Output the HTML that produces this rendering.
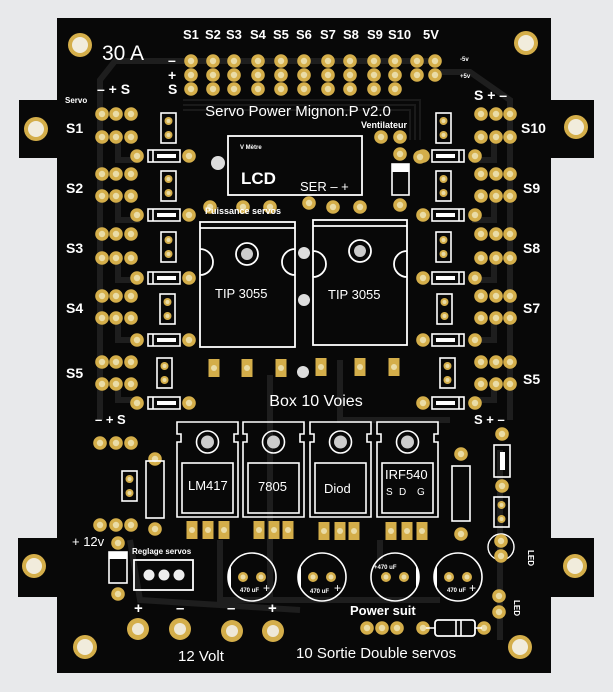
<!DOCTYPE html>
<html><head><meta charset="utf-8"><style>
html,body{margin:0;padding:0;background:#e8e9eb;}
svg{display:block;}
text{font-family:"Liberation Sans",sans-serif;fill:#fff;}
</style></head><body>
<svg width="613" height="692" viewBox="0 0 613 692" xmlns="http://www.w3.org/2000/svg">
<defs>
<g id="p"><circle r="6.8" fill="#d4ae4a"/><circle r="3.2" fill="#eadca6"/></g>
<g id="h"><circle r="12" fill="#d4ae4a"/><circle r="8" fill="#f1ecdc"/></g>
<g id="hb"><circle r="11" fill="#d4ae4a"/><circle r="6" fill="#eee8d6"/></g>
<g id="res"><rect x="0" y="-6" width="32" height="12" fill="none" stroke="#fff" stroke-width="1.6"/><line x1="5" y1="-6" x2="5" y2="6" stroke="#fff" stroke-width="1.6"/><rect x="9" y="-2" width="19" height="4" fill="#fff"/></g>
<g id="jp"><rect x="0" y="0" width="15" height="30" fill="none" stroke="#fff" stroke-width="1.6"/><circle cx="7.5" cy="8" r="4" fill="#d4ae4a"/><circle cx="7.5" cy="8" r="2" fill="#eadca6"/><circle cx="7.5" cy="22" r="4" fill="#d4ae4a"/><circle cx="7.5" cy="22" r="2" fill="#eadca6"/></g>
<g id="to"><path d="M0 0H61V12H57V20H61V95H0V20H4V12H0Z" fill="none" stroke="#fff" stroke-width="1.6"/><circle cx="30.5" cy="20" r="11" fill="none" stroke="#fff" stroke-width="1.6"/><circle cx="30.5" cy="20" r="6.5" fill="#ccc"/><rect x="5" y="41" width="51" height="50" fill="none" stroke="#fff" stroke-width="1.6"/></g>
<g id="rp"><rect x="-5.5" y="-9" width="11" height="18" fill="#d4ae4a"/><circle r="3" fill="#eadca6"/></g>
<g id="cap"><circle r="24" fill="none" stroke="#fff" stroke-width="1.6"/><circle cx="-9" cy="0" r="5" fill="#d4ae4a"/><circle cx="-9" r="2.5" fill="#eadca6"/><circle cx="9" cy="0" r="5" fill="#d4ae4a"/><circle cx="9" r="2.5" fill="#eadca6"/></g>
</defs>
<rect x="57" y="18" width="494" height="655" fill="#080808"/>
<rect x="19" y="100" width="40" height="58" fill="#080808"/>
<rect x="549" y="100" width="45" height="58" fill="#080808"/>
<rect x="18" y="538" width="41" height="59" fill="#080808"/>
<rect x="549" y="538" width="45" height="59" fill="#080808"/>
<g stroke="#1e1e1e" stroke-width="6" fill="none">
<path d="M100 420V80L115 61H440"/>
<path d="M510 420V100L470 72H440"/>
<path d="M118 140V160H140M118 200V220H140M118 260V280H140M118 320V340H140M118 380V400H140"/>
<path d="M494 140V160H472M494 200V220H472M494 260V280H472M494 320V340H472M494 380V400H472"/>
<path d="M270 375V600M340 360V420H450M220 540V600H440M500 450V640"/>
<path d="M130 540L140 600L300 610M380 540V560"/>
</g>
<g stroke="#1a1a1a" stroke-width="2" fill="none">
<path d="M183 100H420V140M183 105H415V140M183 110H410V140"/>
</g>
<use href="#h" x="80" y="45"/><use href="#h" x="526" y="43"/>
<use href="#h" x="36" y="129"/><use href="#h" x="576" y="127"/>
<use href="#h" x="34" y="566"/><use href="#h" x="575" y="566"/>
<use href="#h" x="85" y="647"/><use href="#h" x="520" y="647"/>
<text x="102" y="60" font-size="21">30 A</text>
<g font-size="13" font-weight="bold">
<text x="183" y="39">S1</text><text x="205" y="39">S2</text><text x="226" y="39">S3</text><text x="250" y="39">S4</text><text x="273" y="39">S5</text><text x="296" y="39">S6</text><text x="320" y="39">S7</text><text x="343" y="39">S8</text><text x="367" y="39">S9</text><text x="388" y="39">S10</text><text x="423" y="39">5V</text>
</g>
<g font-size="14" font-weight="bold"><text x="168" y="65">–</text><text x="168" y="80">+</text><text x="168" y="94">S</text></g>
<text x="460" y="61" font-size="6" font-weight="bold">-5v</text><text x="460" y="78" font-size="6" font-weight="bold">+5v</text>
<g>
<use href="#p" x="191" y="61"/><use href="#p" x="213" y="61"/><use href="#p" x="234" y="61"/><use href="#p" x="258" y="61"/><use href="#p" x="281" y="61"/><use href="#p" x="304" y="61"/><use href="#p" x="328" y="61"/><use href="#p" x="350" y="61"/><use href="#p" x="374" y="61"/><use href="#p" x="395" y="61"/><use href="#p" x="417" y="61"/><use href="#p" x="435" y="61"/>
<use href="#p" x="191" y="75"/><use href="#p" x="213" y="75"/><use href="#p" x="234" y="75"/><use href="#p" x="258" y="75"/><use href="#p" x="281" y="75"/><use href="#p" x="304" y="75"/><use href="#p" x="328" y="75"/><use href="#p" x="350" y="75"/><use href="#p" x="374" y="75"/><use href="#p" x="395" y="75"/><use href="#p" x="417" y="75"/><use href="#p" x="435" y="75"/>
<use href="#p" x="191" y="89"/><use href="#p" x="213" y="89"/><use href="#p" x="234" y="89"/><use href="#p" x="258" y="89"/><use href="#p" x="281" y="89"/><use href="#p" x="304" y="89"/><use href="#p" x="328" y="89"/><use href="#p" x="350" y="89"/><use href="#p" x="374" y="89"/><use href="#p" x="395" y="89"/>
</g>
<text x="298" y="116" font-size="15" text-anchor="middle">Servo Power Mignon.P v2.0</text>
<text x="97" y="94" font-size="14" font-weight="bold">– + S</text>
<text x="65" y="103" font-size="8" font-weight="bold">Servo</text>
<g font-size="14" font-weight="bold">
<text x="66" y="133">S1</text><text x="66" y="193">S2</text><text x="66" y="253">S3</text><text x="66" y="313">S4</text><text x="66" y="378">S5</text>
<text x="521" y="133">S10</text><text x="523" y="193">S9</text><text x="523" y="253">S8</text><text x="523" y="313">S7</text><text x="523" y="384">S5</text>
</g>
<g id="L">
<use href="#p" x="102" y="114"/><use href="#p" x="116" y="114"/><use href="#p" x="131" y="114"/><use href="#p" x="102" y="137"/><use href="#p" x="116" y="137"/><use href="#p" x="131" y="137"/>
<use href="#p" x="102" y="174"/><use href="#p" x="116" y="174"/><use href="#p" x="131" y="174"/><use href="#p" x="102" y="196"/><use href="#p" x="116" y="196"/><use href="#p" x="131" y="196"/>
<use href="#p" x="102" y="234"/><use href="#p" x="116" y="234"/><use href="#p" x="131" y="234"/><use href="#p" x="102" y="258"/><use href="#p" x="116" y="258"/><use href="#p" x="131" y="258"/>
<use href="#p" x="102" y="296"/><use href="#p" x="116" y="296"/><use href="#p" x="131" y="296"/><use href="#p" x="102" y="318"/><use href="#p" x="116" y="318"/><use href="#p" x="131" y="318"/>
<use href="#p" x="102" y="362"/><use href="#p" x="116" y="362"/><use href="#p" x="131" y="362"/><use href="#p" x="102" y="384"/><use href="#p" x="116" y="384"/><use href="#p" x="131" y="384"/>
<use href="#p" x="137" y="156"/><use href="#p" x="189" y="156"/><use href="#res" x="148" y="156"/>
<use href="#p" x="137" y="215"/><use href="#p" x="189" y="215"/><use href="#res" x="148" y="215"/>
<use href="#p" x="137" y="278"/><use href="#p" x="189" y="278"/><use href="#res" x="148" y="278"/>
<use href="#p" x="137" y="340"/><use href="#p" x="189" y="340"/><use href="#res" x="148" y="340"/>
<use href="#p" x="137" y="403"/><use href="#p" x="189" y="403"/><use href="#res" x="148" y="403"/>
<use href="#jp" x="161" y="113"/><use href="#jp" x="161" y="171"/><use href="#jp" x="161" y="232"/><use href="#jp" x="160" y="294"/><use href="#jp" x="157" y="358"/>
</g>
<use href="#L" transform="translate(612,0) scale(-1,1)"/>
<text x="474" y="100" font-size="14" font-weight="bold">S + –</text>
<rect x="228" y="136" width="134" height="59" fill="none" stroke="#fff" stroke-width="1.8"/>
<text x="240" y="149" font-size="6" font-weight="bold">V Mètre</text>
<text x="241" y="184" font-size="17" font-weight="bold">LCD</text>
<text x="300" y="191" font-size="13">SER – +</text>
<circle cx="218" cy="163" r="7" fill="#ddd"/>
<text x="361" y="128" font-size="9" font-weight="bold">Ventilateur</text>
<use href="#p" x="381" y="137"/><use href="#p" x="400" y="137"/><use href="#p" x="400" y="154"/><use href="#p" x="420" y="157"/>
<rect x="392" y="164" width="17" height="31" fill="none" stroke="#fff" stroke-width="1.6"/><rect x="392" y="164" width="17" height="8" fill="#fff"/>
<use href="#p" x="400" y="205"/><use href="#p" x="210" y="207"/><use href="#p" x="243" y="207"/><use href="#p" x="270" y="207"/><use href="#p" x="309" y="203"/><use href="#p" x="333" y="207"/><use href="#p" x="360" y="207"/>
<text x="205" y="214" font-size="9" font-weight="bold">Puissance servos</text>
<g fill="none" stroke="#fff" stroke-width="1.8">
<rect x="200" y="222" width="95" height="125"/><line x1="200" y1="228" x2="295" y2="228"/>
<rect x="313" y="220" width="94" height="125"/><line x1="313" y1="226" x2="407" y2="226"/>
<circle cx="247" cy="254" r="11"/><circle cx="360" cy="251" r="11"/>
<path d="M200 249A13 13 0 0 1 200 275"/><path d="M295 249A13 13 0 0 0 295 275"/>
<path d="M313 251A13 13 0 0 1 313 277"/><path d="M407 251A13 13 0 0 0 407 277"/>
</g>
<circle cx="247" cy="254" r="6" fill="#ccc"/><circle cx="360" cy="251" r="6" fill="#ccc"/>
<circle cx="304" cy="253" r="6" fill="#ddd"/><circle cx="304" cy="300" r="6" fill="#ddd"/><circle cx="303" cy="372" r="6" fill="#ddd"/>
<text x="215" y="298" font-size="13">TIP 3055</text><text x="328" y="299" font-size="13">TIP 3055</text>
<use href="#rp" x="214" y="368"/><use href="#rp" x="247" y="368"/><use href="#rp" x="281" y="368"/><use href="#rp" x="321" y="367"/><use href="#rp" x="360" y="367"/><use href="#rp" x="394" y="367"/>
<text x="316" y="406" font-size="16" text-anchor="middle">Box 10 Voies</text>
<text x="95" y="424" font-size="13" font-weight="bold">– + S</text>
<text x="474" y="424" font-size="13" font-weight="bold">S + –</text>
<use href="#p" x="100" y="443"/><use href="#p" x="116" y="443"/><use href="#p" x="131" y="443"/>
<use href="#p" x="100" y="525"/><use href="#p" x="116" y="525"/><use href="#p" x="131" y="525"/>
<use href="#p" x="155" y="459"/><use href="#p" x="155" y="529"/>
<rect x="146" y="461" width="18" height="57" fill="none" stroke="#fff" stroke-width="1.6"/>
<use href="#jp" x="122" y="471"/>
<text x="72" y="546" font-size="13">+ 12v</text>
<use href="#p" x="118" y="543"/><use href="#p" x="118" y="594"/>
<rect x="109" y="552" width="18" height="31" fill="none" stroke="#fff" stroke-width="1.6"/><rect x="109" y="552" width="18" height="7" fill="#fff"/>
<text x="132" y="554" font-size="8" font-weight="bold">Reglage servos</text>
<rect x="134" y="560" width="59" height="30" fill="none" stroke="#fff" stroke-width="1.8"/>
<circle cx="149" cy="575" r="5.5" fill="#eee"/><circle cx="164" cy="575" r="5.5" fill="#eee"/><circle cx="179" cy="575" r="5.5" fill="#eee"/>
<use href="#to" x="177" y="422"/><use href="#to" x="243" y="422"/><use href="#to" x="310" y="422"/><use href="#to" x="377" y="422"/>
<text x="188" y="490" font-size="13">LM417</text><text x="258" y="491" font-size="13">7805</text><text x="324" y="493" font-size="13">Diod</text><text x="385" y="479" font-size="13">IRF540</text>
<text x="386" y="495" font-size="10">S</text><text x="399" y="495" font-size="10">D</text><text x="417" y="495" font-size="10">G</text>
<use href="#rp" x="192" y="530"/><use href="#rp" x="208" y="530"/><use href="#rp" x="224" y="530"/>
<use href="#rp" x="259" y="530"/><use href="#rp" x="274" y="530"/><use href="#rp" x="288" y="530"/>
<use href="#rp" x="324" y="531"/><use href="#rp" x="340" y="531"/><use href="#rp" x="354" y="531"/>
<use href="#rp" x="391" y="531"/><use href="#rp" x="407" y="531"/><use href="#rp" x="422" y="531"/>
<use href="#p" x="461" y="454"/><use href="#p" x="461" y="534"/>
<rect x="452" y="466" width="18" height="55" fill="none" stroke="#fff" stroke-width="1.6"/>
<use href="#p" x="502" y="434"/><use href="#p" x="502" y="486"/>
<rect x="494" y="445" width="16" height="32" fill="none" stroke="#fff" stroke-width="1.6"/><rect x="500" y="452" width="5" height="18" fill="#fff"/>
<use href="#jp" x="494" y="497"/>
<circle cx="501" cy="547" r="13" fill="none" stroke="#fff" stroke-width="1.4"/><use href="#p" x="501" y="541"/><use href="#p" x="501" y="556"/>
<text x="528" y="550" font-size="8" font-weight="bold" transform="rotate(90 528 550)">LED</text>
<use href="#p" x="499" y="596"/><use href="#p" x="499" y="612"/>
<text x="514" y="600" font-size="8" font-weight="bold" transform="rotate(90 514 600)">LED</text>
<g><use href="#cap" x="252" y="577"/><path d="M231 565A24 24 0 0 0 231 589Z" fill="#fff"/><text x="240" y="592" font-size="6" font-weight="bold">470 uF</text><text x="263" y="592" font-size="12">+</text></g>
<g><use href="#cap" x="322" y="577"/><path d="M301 565A24 24 0 0 0 301 589Z" fill="#fff"/><text x="310" y="593" font-size="6" font-weight="bold">470 uF</text><text x="334" y="592" font-size="12">+</text></g>
<g><use href="#cap" x="395" y="577"/><path d="M416 565A24 24 0 0 1 416 589Z" fill="#fff"/><text x="374" y="569" font-size="6" font-weight="bold">+470 uF</text></g>
<g><use href="#cap" x="458" y="577"/><path d="M437 565A24 24 0 0 0 437 589Z" fill="#fff"/><text x="447" y="592" font-size="6" font-weight="bold">470 uF</text><text x="469" y="592" font-size="12">+</text></g>
<g font-size="15" font-weight="bold"><text x="134" y="613">+</text><text x="176" y="613">–</text><text x="227" y="613">–</text><text x="268" y="613">+</text></g>
<use href="#hb" x="138" y="629"/><use href="#hb" x="180" y="629"/><use href="#hb" x="232" y="631"/><use href="#hb" x="273" y="631"/>
<text x="178" y="661" font-size="15">12 Volt</text>
<text x="350" y="615" font-size="13" font-weight="bold">Power suit</text>
<use href="#p" x="367" y="628"/><use href="#p" x="382" y="628"/><use href="#p" x="397" y="628"/>
<use href="#p" x="423" y="628"/><use href="#p" x="484" y="628"/>
<line x1="426" y1="628" x2="482" y2="628" stroke="#fff" stroke-width="1.6"/>
<rect x="435" y="620" width="40" height="16" rx="3" fill="#080808" stroke="#fff" stroke-width="1.8"/>
<line x1="456" y1="620" x2="456" y2="636" stroke="#fff" stroke-width="1.6"/><line x1="461" y1="620" x2="461" y2="636" stroke="#fff" stroke-width="1.6"/>
<text x="296" y="658" font-size="15">10 Sortie Double servos</text>
</svg>
</body></html>
